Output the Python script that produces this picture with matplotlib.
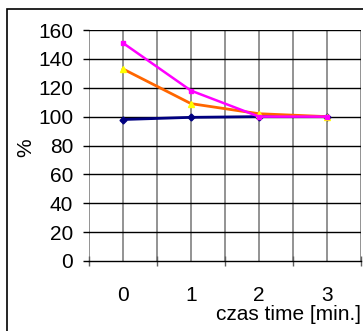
import matplotlib
matplotlib.use("Agg")
import matplotlib.pyplot as plt
from matplotlib.patches import Rectangle
import numpy as np

plt.rcParams['font.family'] = ['Liberation Sans', 'DejaVu Sans']

time_min = [0, 1, 2, 3]
series_magenta = [151, 118, 100, 100]
series_orange = [133, 109, 102, 100]
series_navy = [98, 99.5, 100, 100]
y_ticks = [0, 20, 40, 60, 80, 100, 120, 140, 160]

FS = 15

fig = plt.figure(figsize=(3.63, 3.31), dpi=100)
fig.patches.append(Rectangle((7 / 363, -0.05), 1.1, 1 - 9 / 331 + 0.05,
                             transform=fig.transFigure, fill=False,
                             edgecolor='black', lw=1.2))

ax = fig.add_axes([89 / 363, 1 - 261 / 331, (361 - 89) / 363, (261 - 30) / 331])
ax.set_xlim(-0.5, 3.5)
ax.set_ylim(0, 160)

# grid: grey verticals at category centres and boundaries, black horizontals
for xv in np.arange(-0.5, 3.51, 0.5):
    ax.axvline(xv, color='#808080', lw=1.2, zorder=1)
for yv in y_ticks[1:]:
    ax.axhline(yv, color='black', lw=1.0, zorder=1)

ax.plot(time_min, series_navy, color='#000080', lw=2, marker='D', ms=3.5,
        mfc='#000080', mec='#000080', zorder=3)
ax.plot(time_min, series_orange, color='#FF6600', lw=2, marker='^', ms=5,
        mfc='#FFFF00', mec='#FFFF00', zorder=4)
ax.plot(time_min, series_magenta, color='#FF00FF', lw=1.8, marker='s', ms=3.5,
        mfc='#FF00FF', mec='#FF00FF', zorder=5)

for s in ['top', 'right', 'left']:
    ax.spines[s].set_visible(False)
ax.spines['bottom'].set_color('black')
ax.spines['bottom'].set_linewidth(1.0)

ax.set_yticks(y_ticks)
ax.set_yticklabels([str(v) for v in y_ticks], fontsize=FS)
ax.tick_params(axis='y', direction='out', length=4.5, width=1.0, pad=7)

ax.set_xticks(np.arange(-0.5, 3.51, 1.0))
ax.set_xticklabels([])
ax.tick_params(axis='x', which='major', direction='inout', length=7, width=1.0,
               color='#606060')
ax.set_xticks(time_min, minor=True)
ax.set_xticklabels([str(v) for v in time_min], minor=True, fontsize=FS)
ax.tick_params(axis='x', which='minor', length=0, pad=18)

fig.text(361 / 363, 1 - 314 / 331, 'czas time [min.]', fontsize=FS,
         ha='right', va='center')
fig.text(26 / 363, 1 - 148 / 331, '%', fontsize=FS, rotation=90,
         ha='center', va='center')

fig.savefig('out.png', dpi=100)
